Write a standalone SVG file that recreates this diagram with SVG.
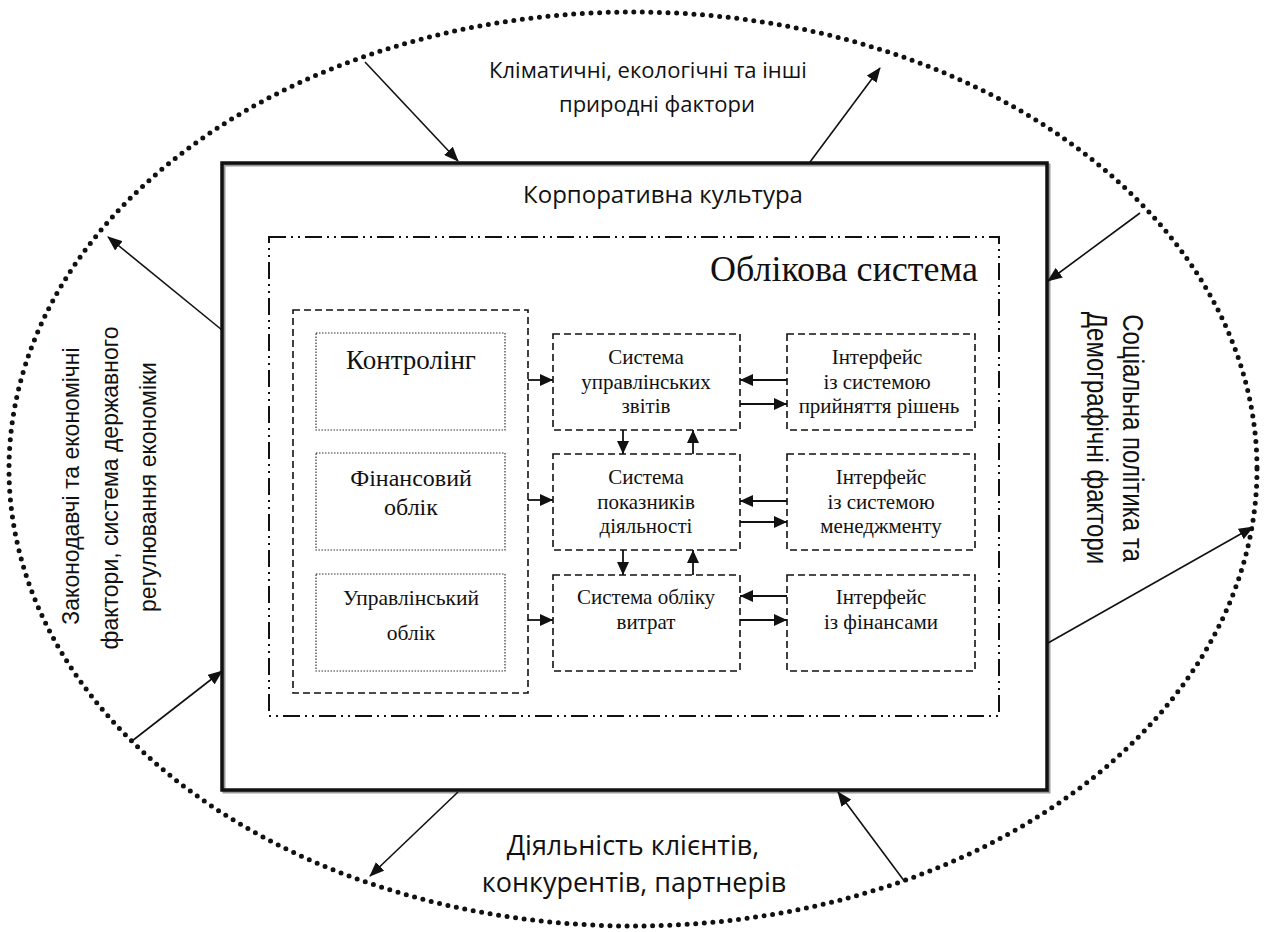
<svg xmlns="http://www.w3.org/2000/svg" width="1267" height="932" viewBox="0 0 1267 932">
<style>
.sans{font-family:"Open Sans","Liberation Sans",sans-serif;fill:#111}
.arial{font-family:"Liberation Sans",Arial,sans-serif;fill:#111}
.serif{font-family:"Liberation Serif","Times New Roman",serif;fill:#111}
.dash{fill:none;stroke:#111;stroke-width:1.6;stroke-dasharray:7 4}
.dot{fill:none;stroke:#333;stroke-width:1.2;stroke-dasharray:1.5 1.5}
.conn{stroke:#111;stroke-width:1.6;fill:none;marker-end:url(#ah)}
.conn2{stroke:#111;stroke-width:1.8;fill:none;marker-end:url(#ah2)}
</style>
<defs>
<marker id="ah" markerUnits="userSpaceOnUse" markerWidth="16" markerHeight="12" refX="14" refY="6" orient="auto">
<path d="M0,0 L15,6 L0,12 Z" fill="#111"/>
</marker>
<marker id="ah2" markerUnits="userSpaceOnUse" markerWidth="14" markerHeight="12" refX="13" refY="6" orient="auto">
<path d="M0,0 L13,6 L0,12 Z" fill="#111"/>
</marker>
</defs>
<rect width="1267" height="932" fill="#fff"/>

<g id="environment">
<ellipse cx="633" cy="469" rx="624" ry="457" fill="none" stroke="#111" stroke-width="5" stroke-dasharray="0 8.6" stroke-linecap="round"/>
<text class="sans" font-size="22" text-anchor="middle"><tspan x="648" y="78">Кліматичні, екологічні та інші</tspan><tspan x="657" y="112">природні фактори</tspan></text>
<text class="sans" font-size="27" text-anchor="middle"><tspan x="633" y="855">Діяльність клієнтів,</tspan><tspan x="634" y="892">конкурентів, партнерів</tspan></text>
<text class="arial" font-size="23" text-anchor="middle" dominant-baseline="central" transform="translate(71,486) rotate(-90)">Законодавчі та економічні</text>
<text class="arial" font-size="23" text-anchor="middle" dominant-baseline="central" transform="translate(110,488) rotate(-90)">фактори, система державного</text>
<text class="arial" font-size="23" text-anchor="middle" dominant-baseline="central" transform="translate(148,487) rotate(-90)">регулювання економіки</text>
<text class="arial" font-size="24" text-anchor="middle" dominant-baseline="central" transform="translate(1133,438) rotate(90) scale(1,1.2)">Соціальна політика та</text>
<text class="arial" font-size="24" text-anchor="middle" dominant-baseline="central" transform="translate(1097,438) rotate(90) scale(1,1.2)">Демографічні фактори</text>
</g>

<g id="corporate-culture">
<rect x="224" y="165" width="825" height="627" fill="none" stroke="#999" stroke-width="3"/>
<rect x="222" y="163" width="825" height="627" fill="none" stroke="#111" stroke-width="3.5"/>
<text class="sans" font-size="24" text-anchor="middle" x="663" y="203">Корпоративна культура</text>
</g>

<g id="accounting-system">
<rect x="269" y="237" width="730" height="479" fill="none" stroke="#111" stroke-width="2" stroke-dasharray="17 5 2 5 2 5"/>
<text class="serif" font-size="36" text-anchor="end" x="978" y="281">Облікова система</text>
</g>

<g id="left-group">
<rect class="dash" x="293" y="310" width="235" height="383"/>
</g>
<g id="controlling">
<rect class="dot" x="316" y="333" width="189" height="97"/>
<text class="serif" font-size="27" text-anchor="middle" x="411" y="369">Контролінг</text>
</g>
<g id="financial-accounting">
<rect class="dot" x="316" y="453" width="189" height="97"/>
<text class="serif" font-size="24" text-anchor="middle"><tspan x="411" y="486">Фінансовий</tspan><tspan x="411" y="515">облік</tspan></text>
</g>
<g id="management-accounting">
<rect class="dot" x="316" y="574" width="189" height="97"/>
<text class="serif" font-size="21.5" text-anchor="middle"><tspan x="411" y="605">Управлінський</tspan><tspan x="411" y="640">облік</tspan></text>
</g>

<g id="mgmt-reports">
<rect class="dash" x="553" y="334" width="187" height="96"/>
<text class="serif" font-size="21" text-anchor="middle"><tspan x="646" y="364">Система</tspan><tspan x="646" y="389">управлінських</tspan><tspan x="646" y="413">звітів</tspan></text>
</g>
<g id="kpi-system">
<rect class="dash" x="553" y="454" width="187" height="96"/>
<text class="serif" font-size="21" text-anchor="middle"><tspan x="646" y="484">Система</tspan><tspan x="646" y="509">показників</tspan><tspan x="646" y="533">діяльності</tspan></text>
</g>
<g id="cost-accounting">
<rect class="dash" x="553" y="575" width="187" height="96"/>
<text class="serif" font-size="21" text-anchor="middle"><tspan x="646" y="604">Система обліку</tspan><tspan x="646" y="629">витрат</tspan></text>
</g>

<g id="iface-decisions">
<rect class="dash" x="787" y="334" width="188" height="96"/>
<text class="serif" font-size="21" text-anchor="middle"><tspan x="877" y="364">Інтерфейс</tspan><tspan x="877" y="389">із системою</tspan><tspan x="879" y="413">прийняття рішень</tspan></text>
</g>
<g id="iface-management">
<rect class="dash" x="787" y="454" width="188" height="96"/>
<text class="serif" font-size="21" text-anchor="middle"><tspan x="881" y="484">Інтерфейс</tspan><tspan x="881" y="509">із системою</tspan><tspan x="881" y="533">менеджменту</tspan></text>
</g>
<g id="iface-finance">
<rect class="dash" x="787" y="575" width="188" height="96"/>
<text class="serif" font-size="21" text-anchor="middle"><tspan x="881" y="604">Інтерфейс</tspan><tspan x="881" y="629">із фінансами</tspan></text>
</g>

<g id="connectors">
<line class="conn" x1="365" y1="62" x2="458" y2="161"/>
<line class="conn" x1="810" y1="162" x2="880" y2="68"/>
<line class="conn" x1="1140" y1="213" x2="1048" y2="281"/>
<line class="conn" x1="1048" y1="643" x2="1253" y2="527"/>
<line class="conn" x1="905" y1="882" x2="838" y2="792"/>
<line class="conn" x1="458" y1="792" x2="370" y2="876"/>
<line class="conn" x1="132" y1="741" x2="222" y2="671"/>
<line class="conn" x1="222" y1="330" x2="108" y2="237"/>

<line class="conn2" x1="528" y1="380" x2="553" y2="380"/>
<line class="conn2" x1="528" y1="500" x2="553" y2="500"/>
<line class="conn2" x1="528" y1="620" x2="553" y2="620"/>

<line class="conn2" x1="787" y1="380" x2="740" y2="380"/>
<line class="conn2" x1="740" y1="404" x2="787" y2="404"/>
<line class="conn2" x1="787" y1="501" x2="740" y2="501"/>
<line class="conn2" x1="740" y1="522" x2="787" y2="522"/>
<line class="conn2" x1="787" y1="596" x2="740" y2="596"/>
<line class="conn2" x1="740" y1="620" x2="787" y2="620"/>

<line class="conn2" x1="623" y1="430" x2="623" y2="454"/>
<line class="conn2" x1="693" y1="454" x2="693" y2="430"/>
<line class="conn2" x1="623" y1="550" x2="623" y2="575"/>
<line class="conn2" x1="693" y1="575" x2="693" y2="550"/>
</g>
</svg>
